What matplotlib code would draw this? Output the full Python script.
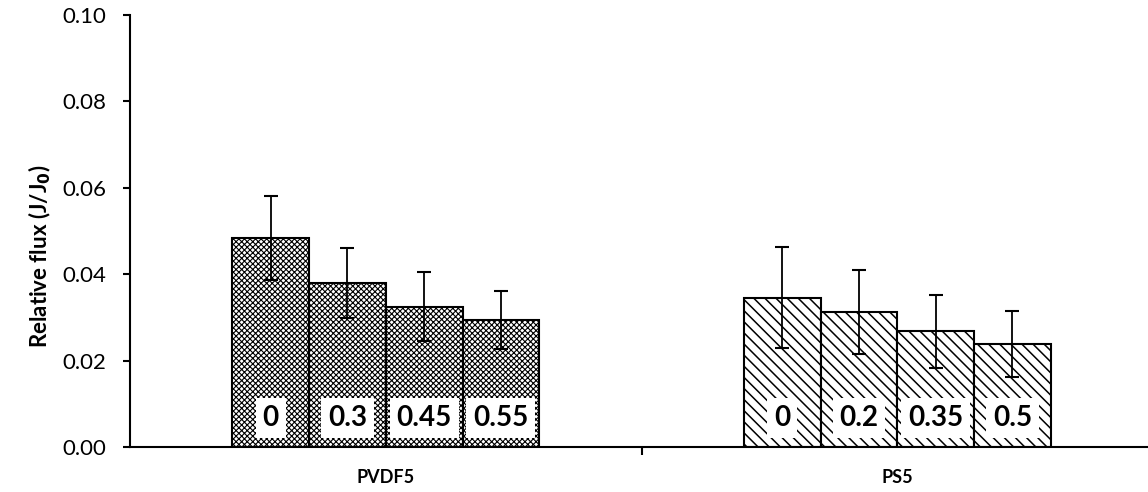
import matplotlib
matplotlib.use('Agg')
import matplotlib.pyplot as plt
import numpy as np

plt.rcParams['font.family'] = ['Lato', 'DejaVu Sans']
plt.rcParams['hatch.linewidth'] = 1.0

groups = ['PVDF5', 'PS5']
pvdf_conc = ['0', '0.3', '0.45', '0.55']
ps_conc = ['0', '0.2', '0.35', '0.5']
pvdf_flux = [0.0484, 0.0380, 0.0325, 0.0294]
pvdf_err = [0.0097, 0.0081, 0.0079, 0.0068]
ps_flux = [0.0346, 0.0313, 0.0268, 0.0238]
ps_err = [0.0117, 0.0097, 0.0084, 0.0077]

fig = plt.figure(figsize=(11.48, 4.92), dpi=100)
ax = fig.add_axes([130/1148, 45/492, 1018/1148, 432/492])

w = 0.15
offsets = (np.arange(4) - 1.5) * w
sets = [(0, pvdf_flux, pvdf_err, pvdf_conc, 'xxxxxx', 0.8),
        (1, ps_flux, ps_err, ps_conc, '\\\\\\', 1.1)]
for gx, vals, errs, labs, hatch, hlw in sets:
    xs = gx + offsets
    bars = ax.bar(xs, vals, width=w, color='white', edgecolor='black', linewidth=1.5,
                  hatch=hatch, zorder=2)
    for b in bars:
        try:
            b.set_hatch_linewidth(hlw)
        except AttributeError:
            pass
    ax.errorbar(xs, vals, yerr=errs, fmt='none', ecolor='black', elinewidth=1.3,
                capsize=5, capthick=1.5, zorder=3)
    for x, lab in zip(xs, labs):
        ax.annotate(lab, xy=(x, 0), xytext=(0, 21), textcoords='offset points',
                    ha='center', va='center', fontsize=20, fontweight='bold',
                    bbox=dict(boxstyle='square,pad=0.25', fc='white', ec='none'),
                    zorder=4)

ax.set_ylim(0, 0.10)
ax.set_xlim(-0.5, 1.49)
ax.set_yticks(np.arange(0, 0.101, 0.02))
ax.set_yticklabels(['%.2f' % v for v in np.arange(0, 0.101, 0.02)], fontsize=16)
ax.tick_params(axis='y', direction='out', length=5, width=1.5, pad=12)

ax.set_xticks([0.5])
ax.set_xticklabels([''])
ax.tick_params(axis='x', which='major', direction='out', length=6, width=1.5)
ax.set_xticks([0, 1], minor=True)
ax.set_xticklabels(groups, minor=True, fontsize=13, fontweight='bold')
ax.tick_params(axis='x', which='minor', length=0, pad=16)

ax.set_ylabel('Relative flux (J/J$_\\mathbf{0}$)', fontsize=16, fontweight='bold')
ax.yaxis.set_label_coords(-0.0756, 0.442)

for s in ['top', 'right']:
    ax.spines[s].set_visible(False)
for s in ['left', 'bottom']:
    ax.spines[s].set_linewidth(1.5)

fig.savefig('out.png', dpi=100)
